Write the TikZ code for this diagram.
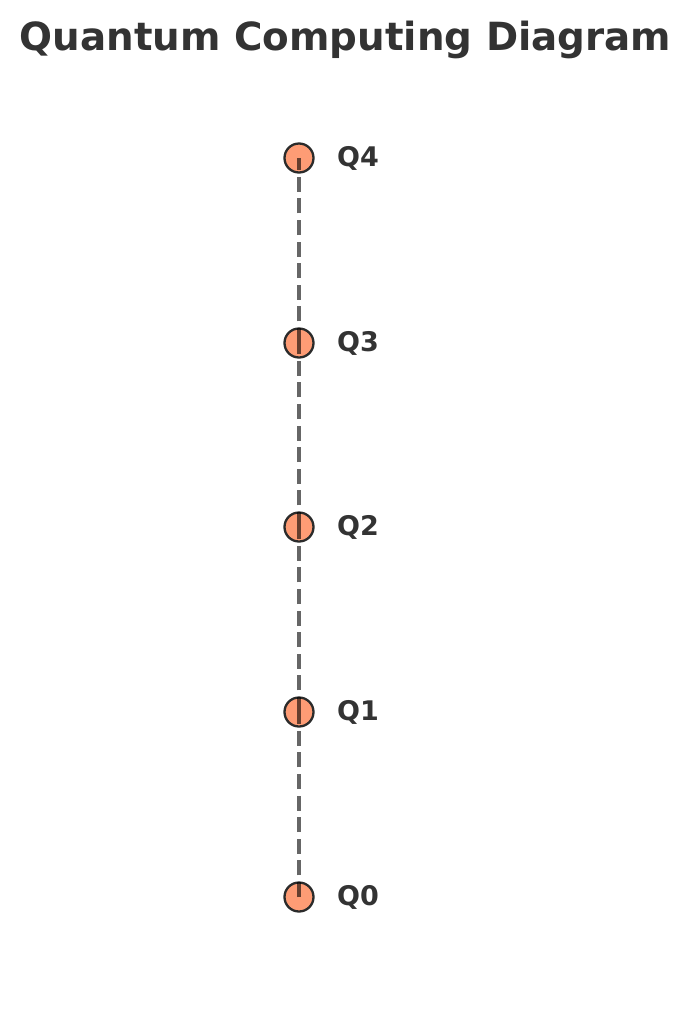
\documentclass[tikz,border=0pt]{standalone}
\usepackage{fontspec}
\setmainfont{DejaVu Sans}
\usetikzlibrary{calc}
\definecolor{txt}{HTML}{333333}
\definecolor{edgegray}{HTML}{666666}
\definecolor{qfill}{HTML}{FE9C75}
\definecolor{qborder}{HTML}{2B2B2B}
\tikzset{
  qubit/.style={circle, draw=qborder, line width=2.3pt, fill=qfill, minimum size=29pt, inner sep=0pt},
  qlabel/.style={anchor=west, text=txt, font=\fontsize{27}{31}\selectfont\bfseries, inner sep=0pt},
  coupling/.style={draw=edgegray, line width=4.3pt, dash pattern=on 15pt off 6.6pt, line cap=butt, blend mode=multiply},
  titletext/.style={text=txt, font=\fontsize{38.8}{44}\selectfont\bfseries, inner sep=0pt}
}
\begin{document}
\begin{tikzpicture}[x=1pt,y=-1pt]
\useasboundingbox (0,0) rectangle (692,1010);
\fill[white] (0,0) rectangle (692,1010);
\node[titletext] (title) at (345.5,39.5) {Quantum Computing Diagram};
\node[qubit] (q4) at (299,158) {};
\node[qubit] (q3) at (299,343) {};
\node[qubit] (q2) at (299,527) {};
\node[qubit] (q1) at (299,712) {};
\node[qubit] (q0) at (299,897) {};
\draw[coupling] (q0.center) -- (q1.center);
\draw[coupling] (q1.center) -- (q2.center);
\draw[coupling] (q2.center) -- (q3.center);
\draw[coupling] (q3.center) -- (q4.center);
\node[qlabel] (l4) at (337,158) {Q4};
\node[qlabel] (l3) at (337,343) {Q3};
\node[qlabel] (l2) at (337,527) {Q2};
\node[qlabel] (l1) at (337,712) {Q1};
\node[qlabel] (l0) at (337,897) {Q0};
\end{tikzpicture}
\end{document}
